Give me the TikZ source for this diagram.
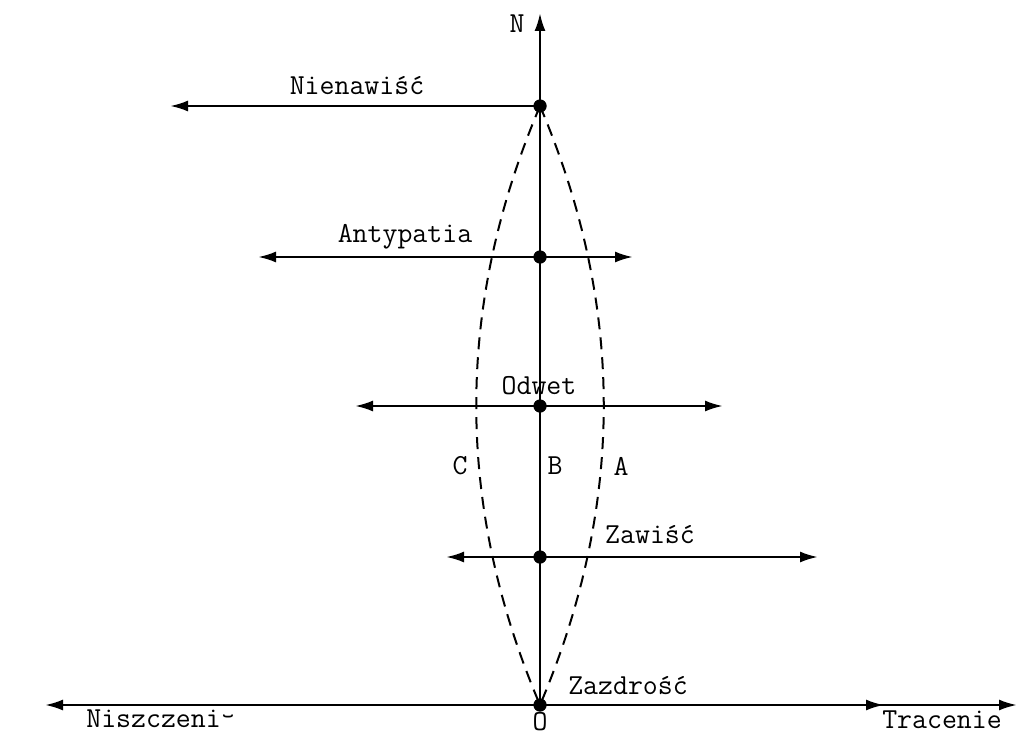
\documentclass[tikz,border=0pt]{standalone}
\usepackage{fontspec}
\usetikzlibrary{arrows.meta}
\tikzset{
  lbl/.style={font=\ttfamily\fontsize{14.5}{16}\selectfont, inner sep=0pt, anchor=center},
  dot/.style={circle, fill=black, inner sep=0pt, minimum size=6.5pt},
  axis/.style={line width=1.2pt, -{Latex[length=9pt,width=5.5pt]}},
  arr/.style={line width=1.2pt, {Latex[length=9pt,width=5.5pt]}-{Latex[length=9pt,width=5.5pt]}},
  larr/.style={line width=1.2pt, {Latex[length=9pt,width=5.5pt]}-},
  lens/.style={line width=1pt, dash pattern=on 6pt off 4pt}
}
\begin{document}
\begin{tikzpicture}[x=0.5pt,y=-0.5pt]
\useasboundingbox (0,0) rectangle (1020,738);
% points on axis
\node[dot] (Ni) at (540,106) {};
\node[dot] (An) at (540,257) {};
\node[dot] (Od) at (540,406) {};
\node[dot] (Za) at (540,557) {};
\node[dot] (O) at (540,705) {};
\coordinate (Ntip) at (540,13);
% arrow ends
\coordinate (NiL) at (170,106);
\coordinate (AnL) at (258,257);
\coordinate (AnR) at (633,257);
\coordinate (OdL) at (355,406);
\coordinate (OdR) at (723,406);
\coordinate (ZaL) at (446,557);
\coordinate (ZaR) at (818,557);
\coordinate (BL) at (45,705);
\coordinate (BM) at (884,705);
\coordinate (BR) at (1017,705);
% vertical axis
\draw[axis] (O.center) -- (Ntip);
% horizontal arrows
\draw[larr] (NiL) -- (Ni.center);
\draw[arr] (AnL) -- (AnR);
\draw[arr] (OdL) -- (OdR);
\draw[arr] (ZaL) -- (ZaR);
\draw[arr] (BL) -- (BR);
\draw[axis] (O.center) -- (BM);
% lens curves
\draw[lens] (Ni.center) .. controls (455,306) and (455,505) .. (O.center);
\draw[lens] (Ni.center) .. controls (625,306) and (625,505) .. (O.center);
% dots on top
\node[dot] at (Ni) {};
\node[dot] at (An) {};
\node[dot] at (Od) {};
\node[dot] at (Za) {};
\node[dot] at (O) {};
% labels
\node[lbl] (lN) at (517,24) {N};
\node[lbl] (lNi) at (357,86) {Nienawiść};
\node[lbl] (lAn) at (405,237) {Antypatia};
\node[lbl] (lOd) at (539,386) {Odwet};
\node[lbl] (lZa) at (650,535) {Zawiść};
\node[lbl] (lZd) at (628,686) {Zazdrość};
\node[lbl] (lO) at (540,722) {O};
\node[lbl] (lNs) at (161,721) {Niszczeni\raisebox{-0.4ex}{˘}};
\node[lbl] (lTr) at (942,720) {Tracenie};
\node[lbl] (lC) at (460,466) {C};
\node[lbl] (lB) at (555,466) {B};
\node[lbl] (lA) at (621,466) {A};
\end{tikzpicture}
\end{document}
